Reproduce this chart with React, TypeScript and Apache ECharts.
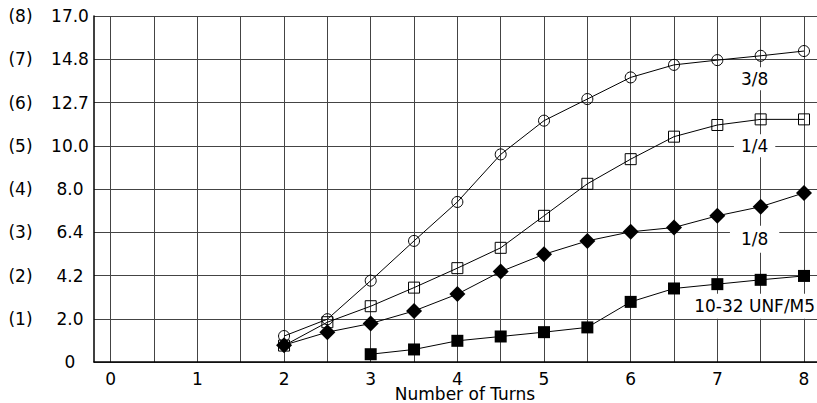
import React, { useEffect, useRef } from "react";
import * as echarts from "echarts";

// x values (number of turns)
const turns = [2, 2.5, 3, 3.5, 4, 4.5, 5, 5.5, 6, 6.5, 7, 7.5, 8];
const turns1032 = [3, 3.5, 4, 4.5, 5, 5.5, 6, 6.5, 7, 7.5, 8];

// series values on the (0..8) scale
const s38 = [0.6, 0.99, 1.88, 2.8, 3.7, 4.8, 5.58, 6.08, 6.58, 6.87, 6.98, 7.08, 7.19];
const s14 = [0.38, 0.92, 1.29, 1.72, 2.17, 2.64, 3.38, 4.12, 4.69, 5.21, 5.48, 5.61, 5.61];
const s18 = [0.39, 0.69, 0.89, 1.18, 1.57, 2.09, 2.49, 2.8, 3.01, 3.11, 3.38, 3.59, 3.91];
const s1032 = [0.18, 0.29, 0.49, 0.59, 0.69, 0.8, 1.39, 1.7, 1.8, 1.9, 1.99];

const seriesNames = ["3/8", "1/4", "1/8", "10-32 UNF/M5"];

// tick labels
const yValueLabels = ["0", "2.0", "4.2", "6.4", "8.0", "10.0", "12.7", "14.8", "17.0"];
const yIndexLabels = ["", "(1)", "(2)", "(3)", "(4)", "(5)", "(6)", "(7)", "(8)"];
const xTickValues = [0, 1, 2, 3, 4, 5, 6, 7, 8];
const xGridValues = [0, 0.5, 1, 1.5, 2, 2.5, 3, 3.5, 4, 4.5, 5, 5.5, 6, 6.5, 7, 7.5, 8];
const xName = "Number of Turns";

const FONT = "DejaVu Sans";
const FS = 17;

function pairs(xs: number[], ys: number[]) {
  return xs.map((x, i) => [x, ys[i]]);
}

function labelPoint(text: string, coord: number[], padding: number[]) {
  return {
    silent: true,
    symbol: "circle",
    symbolSize: 1,
    itemStyle: { color: "rgba(0,0,0,0)" },
    label: {
      show: true,
      position: "inside",
      formatter: text,
      color: "#000",
      fontFamily: FONT,
      fontSize: FS,
      backgroundColor: "#fff",
      padding,
    },
    data: [{ coord }],
  };
}

export default function App() {
  const ref = useRef<HTMLDivElement>(null);
  useEffect(() => {
    if (!ref.current) return;
    const chart = echarts.init(ref.current, null, { renderer: "svg" });
    const lineStyle = { color: "#000", width: 1 };
    const hollow = { color: "rgba(0,0,0,0)", borderColor: "#000", borderWidth: 1 };
    const filled = { color: "#000" };
    chart.setOption({
      animation: false,
      grid: {
        left: 94,
        top: 16,
        right: 0,
        bottom: 41,
        containLabel: false,
        outerBoundsMode: "none",
      },
      xAxis: {
        type: "value",
        min: -0.193,
        max: 8.15,
        name: xName,
        nameLocation: "middle",
        nameGap: 24.5,
        nameMoveOverlap: false,
        nameTextStyle: {
          color: "#000",
          fontFamily: FONT,
          fontSize: FS,
          lineHeight: 14,
          padding: [0, 0, 0, 19],
        },
        axisLine: { show: true, onZero: false, lineStyle: { color: "#000", width: 1.5 } },
        axisTick: { show: false, customValues: xGridValues },
        axisLabel: {
          customValues: xTickValues,
          margin: 9.5,
          lineHeight: 14,
          color: "#000",
          fontFamily: FONT,
          fontSize: FS,
          formatter: (v: number) => String(v),
        },
        splitLine: { show: true, lineStyle: { color: "#444", width: 1 } },
      },
      yAxis: [
        {
          type: "value",
          min: 0,
          max: 8,
          interval: 1,
          position: "left",
          axisLine: { show: true, onZero: false, lineStyle: { color: "#000", width: 1.5 } },
          axisTick: { show: false },
          axisLabel: {
            margin: 24,
            align: "center",
            color: "#000",
            fontFamily: FONT,
            fontSize: FS,
            formatter: (v: number) => yValueLabels[Math.round(v)] ?? "",
          },
          splitLine: { show: true, lineStyle: { color: "#444", width: 1 } },
        },
        {
          type: "value",
          min: 0,
          max: 8,
          interval: 1,
          position: "left",
          axisLine: { show: false, onZero: false },
          axisTick: { show: false },
          axisLabel: {
            margin: 73.5,
            align: "center",
            color: "#000",
            fontFamily: FONT,
            fontSize: FS,
            formatter: (v: number) => yIndexLabels[Math.round(v)] ?? "",
          },
          splitLine: { show: false },
        },
      ],
      series: [
        {
          name: seriesNames[0],
          type: "line",
          data: pairs(turns, s38),
          symbol: "circle",
          symbolSize: 11,
          itemStyle: hollow,
          lineStyle,
          silent: true,
          z: 3,
          markPoint: labelPoint(seriesNames[0], [7.43, 6.55], [3, 6]),
        },
        {
          name: seriesNames[1],
          type: "line",
          data: pairs(turns, s14),
          symbol: "rect",
          symbolSize: 11,
          itemStyle: hollow,
          lineStyle,
          silent: true,
          z: 3,
          markPoint: labelPoint(seriesNames[1], [7.43, 5.0], [3, 7]),
        },
        {
          name: seriesNames[2],
          type: "line",
          data: pairs(turns, s18),
          symbol: "diamond",
          symbolSize: 16,
          itemStyle: filled,
          lineStyle,
          silent: true,
          z: 3,
          markPoint: labelPoint(seriesNames[2], [7.43, 2.84], [5, 11]),
        },
        {
          name: seriesNames[3],
          type: "line",
          data: pairs(turns1032, s1032),
          symbol: "rect",
          symbolSize: 12,
          itemStyle: filled,
          lineStyle,
          silent: true,
          z: 3,
          markPoint: labelPoint(seriesNames[3], [7.43, 1.29], [4, 6]),
        },
      ],
    });
    return () => chart.dispose();
  }, []);
  return (
    <div
      ref={ref}
      style={{ position: "absolute", left: 0, top: 0, width: 817, height: 403, background: "#fff" }}
    />
  );
}
